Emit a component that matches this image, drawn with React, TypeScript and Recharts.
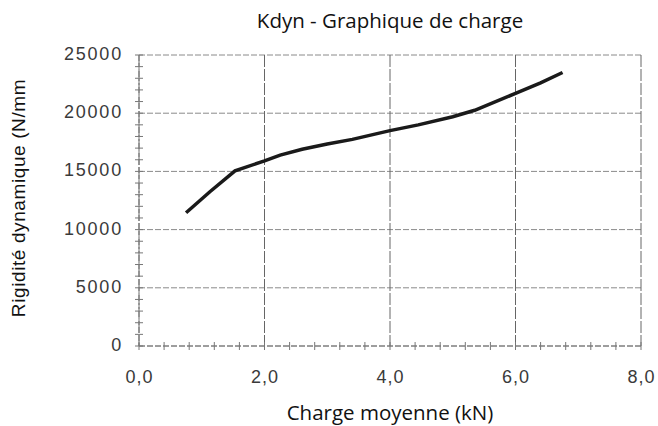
import { LineChart, Line, XAxis, YAxis, CartesianGrid } from 'recharts';

// courbe Kdyn
const chargeKN = [0.75, 1.13, 1.53, 2.0, 2.25, 2.6, 3.0, 3.4, 4.0, 4.45, 5.0, 5.35, 6.0, 6.4, 6.75];
const rigidite = [11450, 13250, 15050, 15900, 16400, 16900, 17350, 17750, 18500, 19000, 19700, 20250, 21700, 22600, 23500];

const xMajor = [0, 2, 4, 6, 8];
const xMinor = [0, 0.4, 0.8, 1.2, 1.6, 2, 2.4, 2.8, 3.2, 3.6, 4, 4.4, 4.8, 5.2, 5.6, 6, 6.4, 6.8, 7.2, 7.6, 8];
const yMajor = [0, 5000, 10000, 15000, 20000, 25000];
const yMinor = [
  0, 1000, 2000, 3000, 4000, 5000, 6000, 7000, 8000, 9000, 10000, 11000, 12000, 13000,
  14000, 15000, 16000, 17000, 18000, 19000, 20000, 21000, 22000, 23000, 24000, 25000,
];

const data = chargeKN.map((x, i) => ({ x, y: rigidite[i] }));

const isMajor = (v: number, list: number[]) => list.some((m) => Math.abs(m - v) < 1e-6);

function XTick(props: any) {
  const { x, y, payload } = props;
  const v = payload.value;
  return (
    <g>
      <line x1={x} x2={x} y1={y - 4} y2={y + 4} stroke="#777" strokeWidth={1} />
      {isMajor(v, xMajor) && (
        <text
          x={x + 0.5}
          y={y + 37}
          textAnchor="middle"
          fill="#3a3a3a"
          fontSize={18}
          letterSpacing={1}
          fontFamily="Liberation Sans, Arial"
        >
          {v.toFixed(1).replace('.', ',')}
        </text>
      )}
    </g>
  );
}

function YTick(props: any) {
  const { x, y, payload } = props;
  const v = payload.value;
  return (
    <g>
      <line x1={x - 4} x2={x + 4} y1={y} y2={y} stroke="#777" strokeWidth={1} />
      {isMajor(v, yMajor) && (
        <text
          x={x - 16}
          y={y + 5}
          textAnchor="end"
          fill="#3a3a3a"
          fontSize={18}
          letterSpacing={1.8}
          fontFamily="Liberation Sans, Arial"
        >
          {v}
        </text>
      )}
    </g>
  );
}

export default function App() {
  return (
    <div
      style={{
        position: 'absolute',
        left: 0,
        top: 0,
        width: 658,
        height: 426,
        background: '#fff',
        fontFamily: 'Open Sans, sans-serif',
      }}
    >
      <div
        style={{
          position: 'absolute',
          left: 139,
          width: 502,
          top: 6,
          textAlign: 'center',
          fontSize: 20.5,
          color: '#111',
          whiteSpace: 'nowrap',
        }}
      >
        Kdyn - Graphique de charge
      </div>

      <LineChart
        width={658}
        height={426}
        data={data}
        margin={{ top: 55, right: 17, bottom: 50, left: 79 }}
      >
        <CartesianGrid
          stroke="#8a8a8a"
          strokeDasharray="6 2"
          vertical={false}
          horizontalValues={yMajor}
        />
        <CartesianGrid
          stroke="#666"
          strokeDasharray="12 2"
          horizontal={false}
          verticalValues={xMajor}
        />
        <XAxis
          dataKey="x"
          type="number"
          domain={[0, 8]}
          ticks={xMinor}
          interval={0}
          tickSize={0}
          tickMargin={0}
          tick={<XTick />}
          height={30}
          axisLine={{ stroke: '#777', strokeDasharray: '6 2' }}
        />
        <YAxis
          type="number"
          domain={[0, 25000]}
          ticks={yMinor}
          interval={0}
          tickSize={0}
          tickMargin={0}
          tick={<YTick />}
          width={60}
          axisLine={{ stroke: '#777', strokeDasharray: '6 2' }}
        />
        <Line
          dataKey="y"
          type="linear"
          stroke="#1a1a1a"
          strokeWidth={3.5}
          dot={false}
          isAnimationActive={false}
        />
      </LineChart>

      <div
        style={{
          position: 'absolute',
          left: 139,
          width: 502,
          top: 398,
          textAlign: 'center',
          fontSize: 20.5,
          color: '#111',
          whiteSpace: 'nowrap',
        }}
      >
        Charge moyenne (kN)
      </div>

      <div
        style={{
          position: 'absolute',
          left: 19,
          top: 198,
          transform: 'translate(-50%, -50%) rotate(-90deg)',
          whiteSpace: 'nowrap',
          fontSize: 19,
          letterSpacing: 0.6,
          fontFamily: 'Liberation Sans, Arial, sans-serif',
          color: '#111',
        }}
      >
        Rigidité dynamique (N/mm
      </div>
    </div>
  );
}
